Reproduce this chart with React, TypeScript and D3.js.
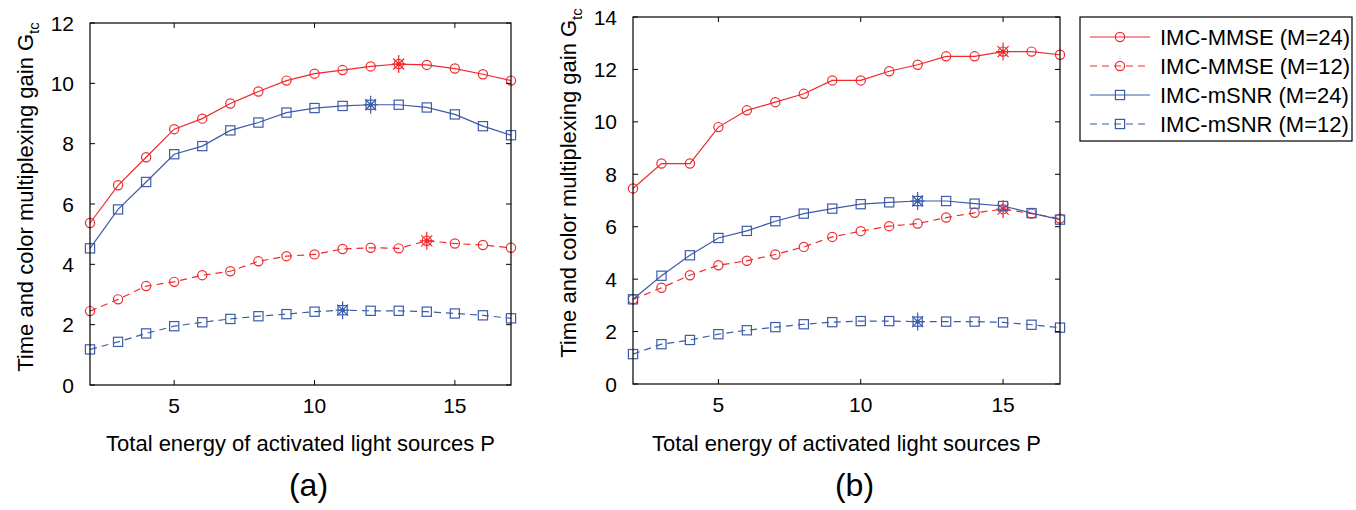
import React, { useRef, useEffect } from 'react';
import * as d3 from 'd3';

// x values (total energy P)
const energy = [2, 3, 4, 5, 6, 7, 8, 9, 10, 11, 12, 13, 14, 15, 16, 17];
const xTicks = [5, 10, 15];
const yTicksA = [0, 2, 4, 6, 8, 10, 12];
const yTicksB = [0, 2, 4, 6, 8, 10, 12, 14];

// panel (a)
const mmse24A = [5.37, 6.62, 7.55, 8.48, 8.83, 9.33, 9.73, 10.09, 10.32, 10.44, 10.56, 10.64, 10.61, 10.49, 10.3, 10.09];
const mmse12A = [2.45, 2.84, 3.28, 3.42, 3.64, 3.77, 4.1, 4.27, 4.33, 4.51, 4.55, 4.53, 4.78, 4.69, 4.64, 4.55];
const msnr24A = [4.53, 5.82, 6.73, 7.65, 7.92, 8.44, 8.7, 9.03, 9.18, 9.25, 9.29, 9.29, 9.2, 8.97, 8.58, 8.28];
const msnr12A = [1.18, 1.43, 1.71, 1.95, 2.08, 2.19, 2.28, 2.35, 2.43, 2.48, 2.46, 2.46, 2.43, 2.37, 2.31, 2.21];

// panel (b)
const mmse24B = [7.46, 8.41, 8.41, 9.8, 10.44, 10.75, 11.07, 11.58, 11.58, 11.93, 12.18, 12.5, 12.5, 12.68, 12.68, 12.56];
const mmse12B = [3.23, 3.67, 4.15, 4.53, 4.7, 4.94, 5.23, 5.61, 5.83, 6.02, 6.12, 6.35, 6.53, 6.67, 6.5, 6.31];
const msnr24B = [3.23, 4.13, 4.91, 5.57, 5.84, 6.21, 6.5, 6.69, 6.86, 6.93, 6.98, 6.98, 6.88, 6.79, 6.52, 6.27];
const msnr12B = [1.14, 1.52, 1.68, 1.9, 2.05, 2.17, 2.28, 2.36, 2.4, 2.4, 2.38, 2.38, 2.38, 2.35, 2.26, 2.15];

// P where each curve peaks (star marker)
const peaksA = [13, 14, 12, 11];
const peaksB = [15, 15, 12, 12];

const seriesNames = ['IMC-MMSE (M=24)', 'IMC-MMSE (M=12)', 'IMC-mSNR (M=24)', 'IMC-mSNR (M=12)'];

const RED = '#ee2a2e';
const BLUE = '#3d5ba9';
const styles = [
  { color: RED, dash: null, marker: 'circle' },
  { color: RED, dash: '7,5', marker: 'circle' },
  { color: BLUE, dash: null, marker: 'square' },
  { color: BLUE, dash: '7,5', marker: 'square' },
];

const FONT = 'Liberation Sans, Arial, Helvetica, sans-serif';

const drawMarker = (g, type, cx, cy, color) => {
  if (type === 'circle') {
    g.append('circle').attr('cx', cx).attr('cy', cy).attr('r', 4.6)
      .attr('fill', 'none').attr('stroke', color).attr('stroke-width', 1.2);
  } else {
    g.append('rect').attr('x', cx - 4.6).attr('y', cy - 4.6).attr('width', 9.2).attr('height', 9.2)
      .attr('fill', 'none').attr('stroke', color).attr('stroke-width', 1.2);
  }
};

const drawStar = (g, cx, cy, color) => {
  const spokes = [[0, 9], [7, 0], [5.5, 5.5], [5.5, -5.5]];
  spokes.forEach(([dx, dy]) => {
    g.append('line').attr('x1', cx - dx).attr('y1', cy - dy).attr('x2', cx + dx).attr('y2', cy + dy)
      .attr('stroke', color).attr('stroke-width', 1.2);
  });
  g.append('circle').attr('cx', cx).attr('cy', cy).attr('r', 2.2).attr('fill', color);
};

const drawPanel = (svg, cfg) => {
  const { left, right, top, bottom, yMax, yTicks, series, peaks, label, labelY } = cfg;
  const x = d3.scaleLinear().domain([2, 17]).range([left, right]);
  const y = d3.scaleLinear().domain([0, yMax]).range([bottom, top]);
  const g = svg.append('g');

  // curves
  series.forEach((vals, i) => {
    const st = styles[i];
    const pts = energy.map((p, j) => ({ p, v: vals[j] }));
    const line = d3.line().x(d => x(d.p)).y(d => y(d.v));
    g.append('path').datum(pts).attr('d', line).attr('fill', 'none')
      .attr('stroke', st.color).attr('stroke-width', 1.2)
      .attr('stroke-dasharray', st.dash);
    pts.forEach(d => drawMarker(g, st.marker, x(d.p), y(d.v), st.color));
    const k = energy.indexOf(peaks[i]);
    drawStar(g, x(peaks[i]), y(vals[k]), st.color);
  });

  // frame
  g.append('rect').attr('x', left).attr('y', top).attr('width', right - left).attr('height', bottom - top)
    .attr('fill', 'none').attr('stroke', '#000').attr('stroke-width', 1.2);

  // ticks (inside, on all four sides)
  xTicks.forEach(t => {
    g.append('line').attr('x1', x(t)).attr('x2', x(t)).attr('y1', bottom).attr('y2', bottom - 5).attr('stroke', '#000');
    g.append('line').attr('x1', x(t)).attr('x2', x(t)).attr('y1', top).attr('y2', top + 5).attr('stroke', '#000');
    g.append('text').attr('x', x(t)).attr('y', bottom + 28).attr('text-anchor', 'middle')
      .style('font-family', FONT).style('font-size', '21px').text(t);
  });
  yTicks.forEach(t => {
    g.append('line').attr('x1', left).attr('x2', left + 5).attr('y1', y(t)).attr('y2', y(t)).attr('stroke', '#000');
    g.append('line').attr('x1', right).attr('x2', right - 5).attr('y1', y(t)).attr('y2', y(t)).attr('stroke', '#000');
    g.append('text').attr('x', left - 16).attr('y', y(t)).attr('dy', '0.36em').attr('text-anchor', 'end')
      .style('font-family', FONT).style('font-size', '21px').text(t);
  });

  // axis titles
  const cx = (left + right) / 2;
  g.append('text').attr('x', cx).attr('y', 451).attr('text-anchor', 'middle')
    .style('font-family', FONT).style('font-size', '22px')
    .text('Total energy of activated light sources P');

  const yl = g.append('text')
    .attr('transform', `translate(${left - 57},${labelY}) rotate(-90)`)
    .attr('text-anchor', 'middle')
    .style('font-family', FONT).style('font-size', '22px');
  yl.append('tspan').text('Time and color multiplexing gain G');
  yl.append('tspan').attr('dy', 6).style('font-size', '15px').text('tc');

  g.append('text').attr('x', cx + 8).attr('y', 496).attr('text-anchor', 'middle')
    .style('font-family', FONT).style('font-size', '32px').text(label);
};

const App = () => {
  const ref = useRef(null);

  useEffect(() => {
    const svg = d3.select(ref.current);
    svg.selectAll('*').remove();

    drawPanel(svg, {
      left: 90, right: 511, top: 23, bottom: 385, yMax: 12, yTicks: yTicksA,
      series: [mmse24A, mmse12A, msnr24A, msnr12A], peaks: peaksA, label: '(a)', labelY: 197,
    });
    drawPanel(svg, {
      left: 633, right: 1060, top: 17, bottom: 384, yMax: 14, yTicks: yTicksB,
      series: [mmse24B, mmse12B, msnr24B, msnr12B], peaks: peaksB, label: '(b)', labelY: 183,
    });

    // legend
    const lg = svg.append('g');
    lg.append('rect').attr('x', 1080).attr('y', 17).attr('width', 272).attr('height', 124)
      .attr('fill', '#fff').attr('stroke', '#000').attr('stroke-width', 1.2);
    seriesNames.forEach((name, i) => {
      const st = styles[i];
      const yy = 37 + i * 29;
      lg.append('line').attr('x1', 1090).attr('x2', 1150).attr('y1', yy).attr('y2', yy)
        .attr('stroke', st.color).attr('stroke-width', 1.2).attr('stroke-dasharray', st.dash);
      drawMarker(lg, st.marker, 1120, yy, st.color);
      lg.append('text').attr('x', 1160).attr('y', yy).attr('dy', '0.36em')
        .style('font-family', FONT).style('font-size', '22px').text(name);
    });
  }, []);

  return (
    <svg ref={ref} width={1356} height={510}
      style={{ position: 'absolute', left: 0, top: 0, background: '#fff' }} />
  );
};

export default App;
